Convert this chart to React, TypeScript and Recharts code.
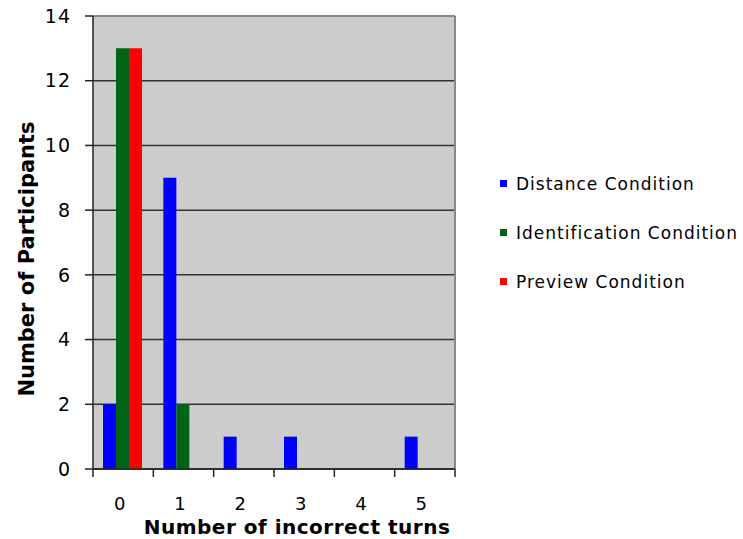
import React from 'react'
import { BarChart, Bar, XAxis, YAxis, CartesianGrid, Legend } from 'recharts'

const categories = ['0', '1', '2', '3', '4', '5']
const distanceCondition = [2, 9, 1, 1, 0, 1]
const identificationCondition = [13, 2, 0, 0, 0, 0]
const previewCondition = [13, 0, 0, 0, 0, 0]
const yTicks = [0, 2, 4, 6, 8, 10, 12, 14]

const seriesNames = ['Distance Condition', 'Identification Condition', 'Preview Condition']
const seriesColors = ['#0000ff', '#006414', '#ff0000']

const data = categories.map((turns, i) => ({
  turns,
  distance: distanceCondition[i],
  identification: identificationCondition[i],
  preview: previewCondition[i],
}))

const FONT = '"DejaVu Sans", Verdana, sans-serif'

// x ticks sit between categories, labels in the middle
function XTick(props: any) {
  const { x, y, payload, index, visibleTicksCount } = props
  const half = payload && payload.offset ? payload.offset : 30
  const isLast = index === visibleTicksCount - 1
  return (
    <g>
      <line x1={x - half} x2={x - half} y1={y} y2={y + 8} stroke="#222" strokeWidth={1.5} />
      {isLast && <line x1={x + half} x2={x + half} y1={y} y2={y + 8} stroke="#222" strokeWidth={1.5} />}
      <text x={x - 3} y={y + 41} textAnchor="middle" fontFamily={FONT} fontSize={18} letterSpacing={1} fill="#000">
        {payload.value}
      </text>
    </g>
  )
}

function LegendContent(props: any) {
  const { payload } = props
  return (
    <div style={{ paddingLeft: 45 }}>
      {(payload || []).map((entry: any) => (
        <div key={entry.value} style={{ height: 49, display: 'flex', alignItems: 'center' }}>
          <span
            style={{ width: 7, height: 7, flexShrink: 0, background: entry.color, marginRight: 9, display: 'inline-block' }}
          />
          <span style={{ fontFamily: FONT, fontSize: 17, letterSpacing: 1, color: '#000', whiteSpace: 'nowrap' }}>
            {entry.value}
          </span>
        </div>
      ))}
    </div>
  )
}

const yTitle = () => (
  <text
    x={27}
    y={259}
    transform="rotate(-90, 27, 259)"
    textAnchor="middle"
    dominantBaseline="central"
    fontFamily={FONT}
    fontSize={21}
    fontWeight="bold"
    fill="#000"
  >
    Number of Participants
  </text>
)

const xTitle = () => (
  <text x={297} y={534} textAnchor="middle" fontFamily={FONT} fontSize={20} fontWeight="bold" letterSpacing={0.5} fill="#000">
    Number of incorrect turns
  </text>
)

export default function App() {
  return (
    <div style={{ position: 'absolute', left: 0, top: 0, background: '#fff' }}>
      <BarChart
        width={743}
        height={539}
        data={data}
        margin={{ top: 16, right: 0, bottom: 0, left: 0 }}
        barCategoryGap="16.6%"
        barGap={0}
      >
        <CartesianGrid vertical={false} fill="#cccccc" fillOpacity={1} stroke="#333" strokeWidth={1.5} />
        {/* lighter frame on the top and right edges of the plot */}
        <CartesianGrid
          stroke="#888"
          strokeWidth={2}
          horizontalCoordinatesGenerator={({ offset }: any) => [offset.top]}
          verticalCoordinatesGenerator={({ offset }: any) => [offset.left + offset.width]}
        />
        <XAxis
          dataKey="turns"
          height={70}
          interval={0}
          tickSize={0}
          tickMargin={0}
          tickLine={false}
          axisLine={{ stroke: '#222', strokeWidth: 1.5 }}
          tick={<XTick />}
          label={xTitle}
        />
        <YAxis
          width={93}
          domain={[0, 14]}
          ticks={yTicks}
          interval={0}
          tickSize={8}
          tickMargin={14}
          axisLine={{ stroke: '#222', strokeWidth: 1.5 }}
          tickLine={{ stroke: '#222', strokeWidth: 1.5 }}
          tick={{ fontFamily: FONT, fontSize: 19, letterSpacing: 1, fill: '#000' }}
          label={yTitle}
        />
        <Legend
          layout="vertical"
          align="right"
          verticalAlign="middle"
          width={288}
          wrapperStyle={{ top: 159, width: 288 }}
          content={<LegendContent />}
        />
        <Bar dataKey="distance" name={seriesNames[0]} fill={seriesColors[0]} isAnimationActive={false} />
        <Bar dataKey="identification" name={seriesNames[1]} fill={seriesColors[1]} isAnimationActive={false} />
        <Bar dataKey="preview" name={seriesNames[2]} fill={seriesColors[2]} isAnimationActive={false} />
      </BarChart>
    </div>
  )
}
